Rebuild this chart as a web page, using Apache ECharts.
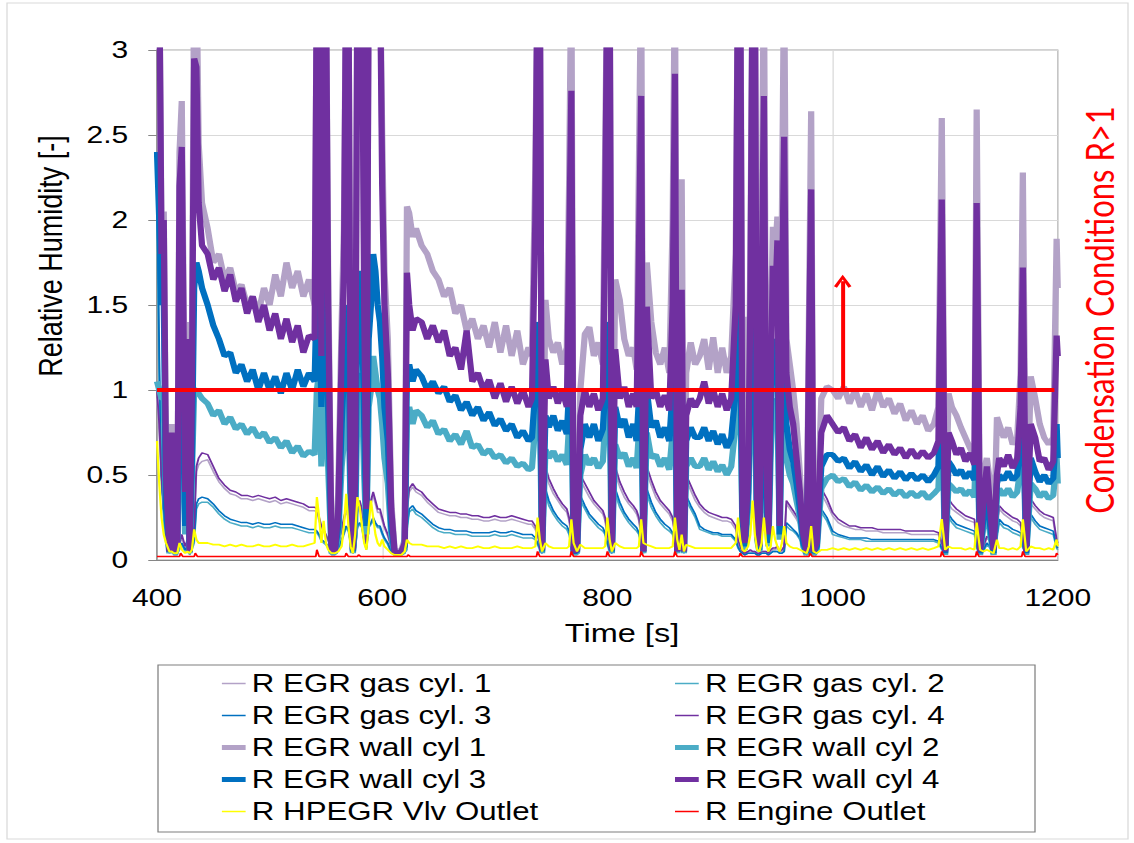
<!DOCTYPE html>
<html>
<head>
<meta charset="utf-8">
<script src="https://cdn.jsdelivr.net/npm/echarts@6/dist/echarts.min.js"></script>
<style>
  html, body { margin: 0; padding: 0; background: #fff; overflow: hidden; }
  /* the source picture is stretched sideways, so draw narrow and stretch */
  #chart { width: 907px; height: 843px; transform: scaleX(1.25); transform-origin: 0 0; }
</style>
</head>
<body>
<div id="chart"></div>
<script>
// time axis [s], shared by the series below
var time = [
  400, 402, 404, 406, 408, 411, 413, 415, 418, 420, 422, 425, 427, 429, 431, 433, 435, 437, 440,
  445, 450, 455, 460, 465, 470, 475, 480, 485, 490, 495, 500, 505, 510, 515, 520, 525, 530, 535,
  540, 542, 544, 546, 548, 550, 552, 555, 558, 561, 564, 566, 568, 570, 572, 574, 576, 578, 580, 582,
  584, 586, 588, 590, 592, 594, 596, 598, 600, 602, 605, 608, 611, 614, 617, 620, 622, 624, 627, 630,
  635, 640, 645, 650, 655, 660, 665, 670, 675, 680, 685, 690, 695, 700, 705, 710, 715, 720, 725, 730,
  733, 736, 738, 740, 742, 745, 748, 752, 756, 760, 764, 766, 768, 770, 773, 776, 780, 784, 788, 792,
  796, 798, 800, 802, 804, 807, 811, 815, 819, 823, 826, 828, 830, 832, 835, 839, 843, 847, 851, 855,
  858, 860, 862, 864, 866, 868, 870, 874, 878,
  882, 886, 890, 894, 898, 902, 906, 910, 914, 916, 918, 920, 922, 925, 927, 929, 931, 933, 935, 937,
  939, 941, 943, 945, 947, 949, 951, 953, 955, 957, 959, 962, 965, 968, 971, 974, 977, 979, 981, 983,
  986, 990, 995,
  1000, 1005, 1010, 1015, 1020, 1025, 1030, 1035, 1040, 1045, 1050, 1055, 1060, 1065, 1070, 1075, 1080, 1085, 1090,
  1094, 1097, 1100, 1103, 1106, 1110, 1114, 1118, 1122, 1126, 1128, 1131, 1134, 1137, 1140, 1143, 1146, 1148,
  1152, 1156, 1160, 1164, 1167, 1169, 1172, 1176, 1180, 1184, 1188, 1192, 1196, 1199, 1200
];

var gasCyl1 = [
  0.95, 0.75, 0.47, 0.28, 0.14, 0.05, 0.07, 0.04, 0.04, 0.09, 0.13, 0.07, 0.11, 0.04, 0.09, 0.18, 0.52, 0.56, 0.58,
  0.59, 0.52, 0.46, 0.42, 0.39, 0.38, 0.36, 0.36, 0.35, 0.36, 0.35, 0.34, 0.35, 0.33, 0.34, 0.33, 0.32, 0.31, 0.29,
  0.29, 0.28, 0.23, 0.19, 0.17, 0.14, 0.11, 0.07, 0.05, 0.09, 0.17, 0.23, 0.28, 0.26, 0.14, 0.05, 0.09, 0.28, 0.33, 0.28,
  0.19, 0.09, 0.28, 0.33, 0.38, 0.33, 0.28, 0.28, 0.23, 0.19, 0.14, 0.07, 0.04, 0.04, 0.04, 0.05, 0.28, 0.4, 0.43, 0.4,
  0.38, 0.34, 0.31, 0.28, 0.27, 0.26, 0.26, 0.25, 0.25, 0.24, 0.24, 0.23, 0.23, 0.24, 0.23, 0.23, 0.24, 0.23, 0.22, 0.21,
  0.21, 0.18, 0.14, 0.09, 0.05, 0.51, 0.45, 0.39, 0.35, 0.31, 0.28, 0.23, 0.14, 0.05, 0.05, 0.47, 0.42, 0.37, 0.33, 0.3,
  0.27, 0.23, 0.14, 0.09, 0.05, 0.51, 0.43, 0.37, 0.33, 0.3, 0.27, 0.23, 0.14, 0.05, 0.51, 0.44, 0.37, 0.33, 0.3, 0.27,
  0.23, 0.14, 0.05, 0.18, 0.37, 0.05, 0.47, 0.41, 0.35,
  0.31, 0.28, 0.26, 0.25, 0.24, 0.23, 0.23, 0.22, 0.18, 0.11, 0.07, 0.05, 0.04, 0.05, 0.05, 0.05, 0.05, 0.04, 0.04, 0.05,
  0.05, 0.05, 0.04, 0.05, 0.06, 0.06, 0.07, 0.05, 0.05, 0.07, 0.33, 0.3, 0.27, 0.24, 0.2, 0.11, 0.04, 0.05, 0.05, 0.04,
  0.09, 0.39, 0.33,
  0.26, 0.22, 0.2, 0.19, 0.18, 0.18, 0.17, 0.17, 0.17, 0.16, 0.16, 0.16, 0.16, 0.16, 0.15, 0.15, 0.15, 0.15, 0.15,
  0.15, 0.09, 0.05, 0.33, 0.3, 0.28, 0.26, 0.24, 0.23, 0.22, 0.11, 0.05, 0.07, 0.13, 0.11, 0.05, 0.18, 0.3,
  0.27, 0.25, 0.23, 0.22, 0.2, 0.11, 0.05, 0.33, 0.3, 0.27, 0.25, 0.24, 0.23, 0.11, 0.09
];

var gasCyl2 = [
  2.0, 1.0, 0.45, 0.27, 0.1, 0.04, 0.05, 0.03, 0.03, 0.07, 0.09, 0.05, 0.07, 0.03, 0.06, 0.1, 0.3, 0.33, 0.34,
  0.34, 0.31, 0.27, 0.24, 0.22, 0.21, 0.2, 0.2, 0.19, 0.2, 0.19, 0.19, 0.2, 0.19, 0.19, 0.19, 0.18, 0.17, 0.16,
  0.16, 0.16, 0.14, 0.11, 0.1, 0.09, 0.07, 0.04, 0.04, 0.06, 0.11, 0.15, 0.19, 0.17, 0.09, 0.04, 0.06, 0.19, 0.21, 0.19,
  0.11, 0.06, 0.19, 0.21, 0.23, 0.21, 0.19, 0.19, 0.15, 0.12, 0.09, 0.04, 0.03, 0.03, 0.03, 0.04, 0.18, 0.28, 0.3, 0.27,
  0.25, 0.22, 0.19, 0.17, 0.16, 0.16, 0.15, 0.15, 0.15, 0.14, 0.14, 0.14, 0.14, 0.15, 0.14, 0.14, 0.15, 0.14, 0.13, 0.13,
  0.13, 0.12, 0.09, 0.06, 0.04, 0.39, 0.32, 0.27, 0.23, 0.2, 0.18, 0.15, 0.09, 0.04, 0.04, 0.35, 0.3, 0.25, 0.22, 0.19,
  0.17, 0.15, 0.09, 0.05, 0.04, 0.39, 0.31, 0.26, 0.22, 0.19, 0.17, 0.15, 0.09, 0.04, 0.39, 0.31, 0.26, 0.22, 0.19, 0.17,
  0.15, 0.09, 0.04, 0.13, 0.28, 0.04, 0.35, 0.3, 0.25,
  0.18, 0.17, 0.16, 0.15, 0.15, 0.14, 0.14, 0.14, 0.11, 0.07, 0.05, 0.04, 0.03, 0.04, 0.04, 0.04, 0.04, 0.03, 0.03, 0.04,
  0.04, 0.04, 0.03, 0.04, 0.05, 0.05, 0.05, 0.04, 0.04, 0.05, 0.2, 0.18, 0.17, 0.15, 0.12, 0.07, 0.03, 0.04, 0.04, 0.03,
  0.06, 0.28, 0.23,
  0.15, 0.14, 0.13, 0.12, 0.12, 0.12, 0.11, 0.11, 0.11, 0.11, 0.11, 0.11, 0.11, 0.11, 0.11, 0.11, 0.11, 0.11, 0.11,
  0.1, 0.06, 0.04, 0.25, 0.22, 0.19, 0.18, 0.17, 0.16, 0.15, 0.07, 0.04, 0.05, 0.09, 0.07, 0.04, 0.13, 0.22,
  0.19, 0.18, 0.16, 0.15, 0.14, 0.07, 0.04, 0.25, 0.21, 0.18, 0.17, 0.16, 0.15, 0.07, 0.06
];

var gasCyl3 = [
  2.35, 1.2, 0.5, 0.3, 0.12, 0.05, 0.06, 0.04, 0.04, 0.08, 0.1, 0.06, 0.08, 0.04, 0.07, 0.12, 0.33, 0.36, 0.37,
  0.36, 0.33, 0.29, 0.26, 0.24, 0.23, 0.22, 0.22, 0.21, 0.22, 0.21, 0.21, 0.22, 0.21, 0.21, 0.21, 0.2, 0.19, 0.18,
  0.18, 0.17, 0.15, 0.12, 0.11, 0.1, 0.08, 0.05, 0.04, 0.07, 0.12, 0.16, 0.2, 0.18, 0.1, 0.04, 0.07, 0.2, 0.22, 0.2,
  0.12, 0.07, 0.2, 0.22, 0.25, 0.22, 0.2, 0.2, 0.16, 0.13, 0.1, 0.05, 0.03, 0.03, 0.03, 0.04, 0.2, 0.3, 0.32, 0.29,
  0.27, 0.24, 0.21, 0.19, 0.18, 0.18, 0.17, 0.17, 0.17, 0.16, 0.16, 0.16, 0.16, 0.17, 0.16, 0.16, 0.17, 0.16, 0.15, 0.15,
  0.15, 0.13, 0.1, 0.07, 0.04, 0.42, 0.35, 0.29, 0.25, 0.22, 0.2, 0.17, 0.1, 0.04, 0.04, 0.38, 0.32, 0.27, 0.24, 0.21,
  0.19, 0.16, 0.1, 0.06, 0.04, 0.42, 0.34, 0.28, 0.24, 0.21, 0.19, 0.16, 0.1, 0.04, 0.42, 0.34, 0.28, 0.24, 0.21, 0.19,
  0.16, 0.1, 0.04, 0.15, 0.3, 0.04, 0.38, 0.32, 0.27,
  0.2, 0.18, 0.17, 0.16, 0.16, 0.15, 0.15, 0.15, 0.12, 0.08, 0.05, 0.04, 0.03, 0.04, 0.04, 0.04, 0.04, 0.03, 0.03, 0.04,
  0.04, 0.04, 0.03, 0.04, 0.05, 0.05, 0.05, 0.04, 0.04, 0.05, 0.22, 0.2, 0.18, 0.16, 0.13, 0.08, 0.03, 0.04, 0.04, 0.03,
  0.07, 0.3, 0.25,
  0.17, 0.15, 0.14, 0.13, 0.13, 0.13, 0.13, 0.12, 0.12, 0.12, 0.12, 0.12, 0.12, 0.12, 0.12, 0.12, 0.12, 0.12, 0.12,
  0.11, 0.07, 0.04, 0.27, 0.24, 0.21, 0.2, 0.19, 0.18, 0.17, 0.08, 0.04, 0.06, 0.1, 0.08, 0.04, 0.15, 0.24,
  0.21, 0.2, 0.18, 0.17, 0.16, 0.08, 0.04, 0.27, 0.23, 0.2, 0.19, 0.18, 0.17, 0.08, 0.07
];

var gasCyl4 = [
  1.0, 0.8, 0.5, 0.3, 0.15, 0.06, 0.08, 0.05, 0.05, 0.1, 0.15, 0.08, 0.12, 0.05, 0.1, 0.2, 0.55, 0.6, 0.63,
  0.62, 0.55, 0.48, 0.44, 0.41, 0.4, 0.38, 0.38, 0.37, 0.38, 0.37, 0.36, 0.37, 0.35, 0.36, 0.35, 0.34, 0.33, 0.31,
  0.31, 0.3, 0.25, 0.2, 0.18, 0.15, 0.12, 0.08, 0.06, 0.1, 0.18, 0.25, 0.3, 0.28, 0.15, 0.06, 0.1, 0.3, 0.35, 0.3,
  0.2, 0.1, 0.3, 0.35, 0.4, 0.35, 0.3, 0.3, 0.25, 0.2, 0.15, 0.08, 0.04, 0.04, 0.04, 0.06, 0.3, 0.42, 0.45, 0.42,
  0.4, 0.36, 0.33, 0.3, 0.29, 0.28, 0.28, 0.27, 0.27, 0.26, 0.26, 0.25, 0.25, 0.26, 0.25, 0.25, 0.26, 0.25, 0.24, 0.23,
  0.23, 0.2, 0.15, 0.1, 0.05, 0.55, 0.48, 0.42, 0.37, 0.33, 0.3, 0.25, 0.15, 0.05, 0.05, 0.5, 0.45, 0.4, 0.35, 0.32,
  0.29, 0.25, 0.15, 0.1, 0.05, 0.55, 0.46, 0.4, 0.35, 0.32, 0.29, 0.25, 0.15, 0.05, 0.55, 0.47, 0.4, 0.35, 0.32, 0.29,
  0.25, 0.15, 0.05, 0.2, 0.4, 0.05, 0.5, 0.44, 0.38,
  0.33, 0.3, 0.28, 0.27, 0.26, 0.25, 0.25, 0.24, 0.2, 0.12, 0.08, 0.05, 0.04, 0.05, 0.06, 0.05, 0.05, 0.04, 0.04, 0.05,
  0.05, 0.05, 0.04, 0.06, 0.07, 0.07, 0.08, 0.05, 0.06, 0.08, 0.35, 0.32, 0.29, 0.26, 0.22, 0.12, 0.04, 0.05, 0.05, 0.04,
  0.1, 0.42, 0.36,
  0.28, 0.24, 0.22, 0.2, 0.2, 0.19, 0.19, 0.19, 0.18, 0.18, 0.18, 0.18, 0.18, 0.17, 0.17, 0.17, 0.17, 0.17, 0.17,
  0.16, 0.1, 0.05, 0.36, 0.33, 0.3, 0.28, 0.26, 0.25, 0.24, 0.12, 0.05, 0.08, 0.14, 0.12, 0.05, 0.2, 0.32,
  0.29, 0.27, 0.25, 0.24, 0.22, 0.12, 0.05, 0.36, 0.32, 0.29, 0.27, 0.26, 0.25, 0.12, 0.1
];

var wallCyl1 = [
  3.5, 3.5, 1.9, 2.05, 0.6, 0.06, 0.8, 0.06, 0.12, 2.4, 2.7, 0.5, 1.4, 0.06, 1.2, 3.5, 3.5, 2.45, 2.1,
  1.95, 1.75, 1.8, 1.65, 1.72, 1.58, 1.62, 1.5, 1.55, 1.45, 1.6, 1.5, 1.68, 1.55, 1.75, 1.6, 1.7, 1.55, 1.65,
  1.5, 3.5, 3.5, 1.4, 3.5, 3.5, 1.7, 0.08, 0.06, 0.4, 1.4, 1.94, 3.5, 3.5, 0.8, 0.08, 0.6, 3.5, 3.5, 3.5,
  1.8, 0.4, 3.5, 3.5, 3.5, 3.5, 3.5, 3.5, 2.5, 1.7, 1.3, 0.35, 0.06, 0.05, 0.06, 0.12, 2.08, 2.04, 1.9, 1.95,
  1.85, 1.8, 1.7, 1.65, 1.55, 1.6, 1.45, 1.5, 1.35, 1.42, 1.3, 1.38, 1.25, 1.4, 1.22, 1.38, 1.2, 1.35, 1.15, 1.25,
  1.2, 2.3, 3.5, 3.5, 0.08, 1.53, 1.3, 1.22, 1.28, 1.15, 1.25, 2.2, 3.5, 0.08, 0.06, 1.0, 1.33, 1.37, 1.2, 1.28,
  1.15, 2.4, 3.5, 3.5, 0.08, 1.65, 1.53, 1.3, 1.2, 1.25, 1.12, 2.3, 3.5, 0.07, 1.75, 1.4, 1.22, 1.15, 1.25, 1.1,
  2.0, 3.5, 0.06, 1.0, 2.24, 0.06, 1.1, 1.28, 1.15,
  1.2, 1.3, 1.12, 1.31, 1.1, 1.25, 1.1, 1.2, 1.8, 3.5, 3.5, 1.0, 1.43, 0.6, 1.8, 3.5, 3.5, 0.3, 0.1, 1.9,
  3.5, 0.8, 0.2, 1.3, 1.96, 1.8, 2.02, 0.3, 2.0, 3.5, 1.3, 1.15, 1.0, 0.8, 0.5, 0.2, 0.06, 1.4, 2.64, 0.06,
  0.15, 0.95, 1.02,
  1.0, 0.95, 1.02, 0.92, 1.0, 0.9, 0.98, 0.88, 1.0, 0.9, 0.95, 0.86, 0.92, 0.82, 0.88, 0.8, 0.85, 0.76, 0.8,
  0.9, 2.6, 0.07, 0.98, 0.9, 0.85, 0.78, 0.72, 0.66, 0.6, 2.65, 0.07, 0.5, 0.6, 0.45, 0.07, 0.84, 0.8,
  0.72, 0.78, 0.68, 0.72, 1.1, 2.28, 0.06, 1.08, 0.95, 0.8, 0.72, 0.68, 0.72, 1.89, 1.6
];

var wallCyl2 = [
  1.05, 1.0, 0.95, 0.95, 0.2, 0.04, 0.3, 0.04, 0.06, 0.8, 1.0, 0.15, 0.7, 0.04, 0.5, 1.0, 1.0, 0.98, 0.95,
  0.92, 0.85, 0.88, 0.8, 0.84, 0.77, 0.8, 0.74, 0.78, 0.72, 0.75, 0.69, 0.72, 0.66, 0.7, 0.63, 0.67, 0.61, 0.64,
  0.62, 1.0, 1.1, 0.55, 0.9, 1.0, 0.55, 0.04, 0.04, 0.15, 0.55, 0.7, 1.0, 0.9, 0.3, 0.04, 0.2, 0.9, 1.1, 1.0,
  0.5, 0.15, 0.9, 1.0, 1.2, 1.1, 1.0, 0.95, 0.8, 0.6, 0.45, 0.15, 0.04, 0.03, 0.04, 0.06, 0.85, 0.9, 0.8, 0.88,
  0.85, 0.78, 0.82, 0.74, 0.77, 0.7, 0.74, 0.68, 0.76, 0.66, 0.68, 0.62, 0.65, 0.6, 0.62, 0.57, 0.6, 0.55, 0.57, 0.53,
  0.54, 0.8, 1.0, 0.9, 0.04, 0.65, 0.6, 0.64, 0.58, 0.62, 0.56, 0.8, 1.0, 0.04, 0.04, 0.5, 0.62, 0.56, 0.6, 0.54,
  0.58, 0.8, 1.0, 0.9, 0.04, 0.68, 0.6, 0.63, 0.55, 0.6, 0.54, 0.75, 1.0, 0.04, 0.75, 0.6, 0.62, 0.55, 0.6, 0.53,
  0.75, 1.0, 0.04, 0.3, 0.8, 0.04, 0.55, 0.6, 0.55,
  0.55, 0.6, 0.53, 0.58, 0.52, 0.56, 0.5, 0.55, 0.8, 1.1, 1.0, 0.15, 0.06, 0.3, 0.8, 1.1, 1.0, 0.12, 0.05, 0.8,
  1.1, 0.3, 0.08, 0.6, 0.95, 0.85, 0.95, 0.12, 0.85, 1.2, 0.6, 0.5, 0.45, 0.35, 0.25, 0.08, 0.03, 0.6, 0.9, 0.03,
  0.06, 0.42, 0.48,
  0.5, 0.46, 0.48, 0.43, 0.46, 0.41, 0.44, 0.4, 0.43, 0.39, 0.42, 0.38, 0.41, 0.37, 0.4, 0.37, 0.4, 0.36, 0.39,
  0.42, 0.9, 0.03, 0.45, 0.43, 0.4, 0.42, 0.38, 0.41, 0.37, 0.85, 0.03, 0.2, 0.32, 0.15, 0.03, 0.37, 0.42,
  0.38, 0.42, 0.37, 0.4, 0.55, 0.8, 0.03, 0.45, 0.42, 0.37, 0.4, 0.36, 0.38, 0.6, 0.45
];

var wallCyl3 = [
  2.4, 2.0, 1.5, 1.55, 0.3, 0.05, 0.4, 0.05, 0.08, 1.2, 1.6, 0.2, 0.9, 0.05, 0.6, 1.6, 1.75, 1.7, 1.6,
  1.5, 1.38, 1.3, 1.2, 1.22, 1.1, 1.15, 1.05, 1.12, 1.0, 1.1, 1.0, 1.08, 0.98, 1.1, 1.0, 1.12, 1.02, 1.1,
  1.05, 1.6, 1.7, 0.9, 1.5, 1.6, 0.9, 0.05, 0.05, 0.2, 0.8, 1.1, 1.5, 1.4, 0.4, 0.05, 0.3, 1.5, 1.7, 1.5,
  0.8, 0.2, 1.3, 1.5, 1.8, 1.7, 1.5, 1.4, 1.2, 0.9, 0.7, 0.2, 0.04, 0.04, 0.05, 0.08, 1.1, 1.15, 1.05, 1.12,
  1.08, 1.0, 1.05, 0.98, 1.02, 0.93, 0.97, 0.88, 0.93, 0.85, 0.9, 0.82, 0.87, 0.79, 0.83, 0.76, 0.8, 0.72, 0.76, 0.7,
  0.72, 1.0, 1.4, 1.2, 0.05, 0.85, 0.78, 0.85, 0.76, 0.82, 0.74, 1.0, 1.3, 0.05, 0.05, 0.65, 0.8, 0.72, 0.8, 0.7,
  0.77, 1.0, 1.4, 1.3, 0.05, 0.9, 0.78, 0.83, 0.72, 0.8, 0.7, 0.95, 1.3, 0.05, 1.0, 0.78, 0.82, 0.72, 0.78, 0.7,
  1.0, 1.3, 0.05, 0.4, 1.1, 0.05, 0.7, 0.78, 0.72,
  0.72, 0.78, 0.7, 0.76, 0.68, 0.74, 0.66, 0.72, 1.0, 1.5, 1.3, 0.2, 0.08, 0.4, 1.0, 1.5, 1.3, 0.15, 0.06, 1.0,
  1.5, 0.4, 0.1, 0.8, 1.3, 1.1, 1.3, 0.15, 1.1, 1.6, 0.8, 0.65, 0.58, 0.45, 0.3, 0.1, 0.04, 0.8, 1.2, 0.04,
  0.08, 0.55, 0.62,
  0.62, 0.58, 0.6, 0.54, 0.58, 0.52, 0.56, 0.5, 0.55, 0.49, 0.53, 0.48, 0.52, 0.47, 0.51, 0.47, 0.5, 0.46, 0.5,
  0.55, 1.2, 0.04, 0.58, 0.55, 0.5, 0.53, 0.48, 0.52, 0.47, 1.1, 0.04, 0.25, 0.4, 0.2, 0.04, 0.45, 0.5,
  0.47, 0.52, 0.47, 0.5, 0.7, 1.0, 0.04, 0.6, 0.52, 0.46, 0.5, 0.45, 0.48, 0.8, 0.6
];

var wallCyl4 = [
  3.5, 3.5, 1.8, 2.0, 0.5, 0.05, 0.75, 0.05, 0.1, 2.2, 2.43, 0.4, 1.3, 0.05, 1.0, 2.95, 2.9, 2.1, 1.85,
  1.8, 1.65, 1.72, 1.58, 1.68, 1.52, 1.6, 1.45, 1.55, 1.4, 1.5, 1.35, 1.45, 1.3, 1.42, 1.28, 1.38, 1.22, 1.32,
  1.3, 3.5, 3.5, 1.2, 3.5, 3.5, 1.5, 0.06, 0.05, 0.3, 1.2, 1.7, 3.5, 3.5, 0.6, 0.06, 0.5, 3.5, 3.5, 3.5,
  1.5, 0.3, 3.5, 3.5, 3.5, 3.5, 3.5, 3.5, 2.2, 1.5, 1.1, 0.3, 0.05, 0.04, 0.05, 0.1, 1.69, 1.5, 1.35, 1.42,
  1.4, 1.3, 1.38, 1.28, 1.35, 1.2, 1.25, 1.12, 1.35, 1.05, 1.1, 1.0, 1.06, 0.95, 1.04, 0.93, 1.02, 0.92, 1.0, 0.9,
  0.95, 2.0, 3.5, 3.5, 0.06, 1.18, 0.95, 1.02, 0.92, 1.0, 0.9, 1.8, 2.76, 0.06, 0.05, 0.85, 1.0, 0.9, 0.98, 0.88,
  0.95, 2.0, 3.5, 3.5, 0.06, 1.24, 0.95, 1.02, 0.9, 0.98, 0.9, 1.8, 2.73, 0.05, 1.49, 0.95, 1.0, 0.9, 0.97, 0.88,
  1.5, 2.86, 0.05, 0.5, 1.59, 0.05, 0.85, 0.95, 0.9,
  0.95, 1.05, 0.92, 1.0, 0.9, 0.98, 0.88, 0.95, 1.5, 3.5, 3.5, 0.3, 0.1, 0.5, 1.5, 3.5, 3.5, 0.2, 0.08, 1.5,
  2.73, 0.6, 0.15, 1.0, 1.73, 1.5, 1.88, 0.2, 1.5, 2.49, 1.1, 0.9, 0.8, 0.6, 0.4, 0.15, 0.05, 1.2, 2.18, 0.05,
  0.1, 0.75, 0.85,
  0.8, 0.75, 0.78, 0.7, 0.74, 0.66, 0.72, 0.65, 0.7, 0.63, 0.68, 0.62, 0.66, 0.6, 0.65, 0.6, 0.64, 0.6, 0.63,
  0.7, 2.12, 0.05, 0.75, 0.7, 0.62, 0.66, 0.58, 0.63, 0.56, 2.1, 0.05, 0.35, 0.55, 0.3, 0.06, 0.5, 0.6,
  0.55, 0.62, 0.54, 0.6, 0.9, 1.72, 0.05, 0.8, 0.72, 0.58, 0.6, 0.53, 0.58, 1.32, 1.2
];

var hpegrOutlet = [
  0.7, 0.45, 0.25, 0.15, 0.1, 0.05, 0.05, 0.04, 0.04, 0.1, 0.06, 0.04, 0.05, 0.04, 0.06, 0.18, 0.12, 0.1, 0.1,
  0.1, 0.09, 0.09, 0.08, 0.09, 0.08, 0.09, 0.08, 0.08, 0.09, 0.08, 0.08, 0.09, 0.08, 0.08, 0.09, 0.08, 0.08, 0.09,
  0.1, 0.37, 0.25, 0.1, 0.23, 0.1, 0.06, 0.04, 0.04, 0.05, 0.08, 0.2, 0.39, 0.2, 0.08, 0.04, 0.15, 0.37, 0.31, 0.2,
  0.1, 0.06, 0.2, 0.35, 0.25, 0.15, 0.1, 0.08, 0.12, 0.08, 0.06, 0.04, 0.03, 0.03, 0.03, 0.05, 0.12, 0.1, 0.09, 0.09,
  0.09, 0.08, 0.08, 0.08, 0.07, 0.08, 0.07, 0.08, 0.07, 0.07, 0.08, 0.07, 0.07, 0.08, 0.07, 0.07, 0.07, 0.08, 0.07, 0.07,
  0.07, 0.08, 0.25, 0.12, 0.05, 0.1, 0.08, 0.07, 0.07, 0.07, 0.07, 0.08, 0.24, 0.1, 0.05, 0.09, 0.07, 0.07, 0.07, 0.07,
  0.07, 0.08, 0.25, 0.12, 0.05, 0.1, 0.08, 0.07, 0.07, 0.07, 0.07, 0.08, 0.24, 0.1, 0.09, 0.08, 0.07, 0.07, 0.07, 0.07,
  0.08, 0.25, 0.12, 0.06, 0.15, 0.05, 0.09, 0.08, 0.07,
  0.07, 0.07, 0.07, 0.07, 0.07, 0.07, 0.07, 0.07, 0.1, 0.25, 0.12, 0.06, 0.05, 0.08, 0.15, 0.35, 0.15, 0.06, 0.05, 0.1,
  0.25, 0.1, 0.05, 0.08, 0.2, 0.12, 0.08, 0.05, 0.1, 0.2, 0.1, 0.08, 0.07, 0.07, 0.06, 0.05, 0.04, 0.08, 0.2, 0.05,
  0.04, 0.06, 0.06,
  0.07, 0.06, 0.07, 0.06, 0.07, 0.06, 0.07, 0.06, 0.07, 0.06, 0.07, 0.06, 0.07, 0.06, 0.07, 0.06, 0.07, 0.06, 0.07,
  0.08, 0.24, 0.06, 0.08, 0.07, 0.07, 0.07, 0.06, 0.07, 0.06, 0.22, 0.06, 0.05, 0.06, 0.05, 0.04, 0.12, 0.07,
  0.07, 0.06, 0.07, 0.06, 0.08, 0.24, 0.05, 0.08, 0.07, 0.07, 0.06, 0.07, 0.06, 0.12, 0.08
];

// engine outlet sits near zero, only small bumps at the events
var engineTime = [400, 420, 421, 423, 433, 434, 436, 541, 542, 544, 567, 568, 570, 578, 579, 581, 622, 623, 625,
  737, 738, 740, 767, 768, 770, 799, 800, 802, 829, 830, 832, 859, 860, 862, 917, 918, 920, 979, 980, 982,
  1096, 1097, 1099, 1127, 1128, 1130, 1168, 1169, 1171, 1198, 1199, 1200];
var engineOutlet = [0.02, 0.02, 0.04, 0.02, 0.02, 0.04, 0.02, 0.02, 0.06, 0.02, 0.02, 0.04, 0.02, 0.02, 0.03, 0.02, 0.02, 0.03, 0.02,
  0.02, 0.05, 0.02, 0.02, 0.05, 0.02, 0.02, 0.05, 0.02, 0.02, 0.05, 0.02, 0.02, 0.05, 0.02, 0.02, 0.04, 0.02, 0.02, 0.04, 0.02,
  0.02, 0.05, 0.02, 0.02, 0.05, 0.02, 0.02, 0.05, 0.02, 0.02, 0.04, 0.03];

// condensation threshold R = 1 and the arrow above it
var thresholdTime = [400, 1197];
var thresholdValue = [1, 1];
var arrowX = 1009;
var arrowTop = 1.64;

var xTicks = { min: 400, max: 1200, step: 200 };
var yTicks = { min: 0, max: 3, step: 0.5 };

var FONT = 'Liberation Sans, Arial, sans-serif';
var THIN = 1.5, THICK = 5;
var chart = echarts.init(document.getElementById('chart'), null, { renderer: 'svg' });

function pairs(xs, ys) {
  return xs.map(function (t, i) { return [t, ys[i]]; });
}
function lineSeries(name, values, color, width) {
  return {
    name: name,
    type: 'line',
    data: pairs(time, values),
    symbol: 'none',
    showSymbol: false,
    lineStyle: { color: color, width: width },
    itemStyle: { color: color },
    clip: true
  };
}
// legend entry with the same line weight as its series
function legendItem(name, width) {
  return { name: name, lineStyle: { width: width } };
}

var series = [
  lineSeries('R EGR gas cyl. 1', gasCyl1, '#B3A2C7', THIN),
  lineSeries('R EGR gas cyl. 2', gasCyl2, '#4BACC6', THIN),
  lineSeries('R EGR gas cyl. 3', gasCyl3, '#0070C0', THIN),
  lineSeries('R EGR gas cyl. 4', gasCyl4, '#7030A0', THIN),
  lineSeries('R EGR wall cyl 1', wallCyl1, '#B3A2C7', THICK),
  lineSeries('R EGR wall cyl 2', wallCyl2, '#4BACC6', THICK),
  lineSeries('R EGR wall cyl 3', wallCyl3, '#0070C0', THICK),
  lineSeries('R EGR wall cyl 4', wallCyl4, '#7030A0', THICK),
  lineSeries('R HPEGR Vlv Outlet', hpegrOutlet, '#FFFF00', 1.8),
  {
    name: 'R Engine Outlet',
    type: 'line',
    data: pairs(engineTime, engineOutlet),
    symbol: 'none',
    lineStyle: { color: '#FF0000', width: THIN },
    itemStyle: { color: '#FF0000' }
  },
  {
    name: 'threshold',
    type: 'line',
    data: pairs(thresholdTime, thresholdValue),
    symbol: 'none',
    silent: true,
    z: 5,
    lineStyle: { color: '#FF0000', width: 4 },
    markLine: {
      silent: true,
      symbol: ['none', 'path://M0,12 L7,0 L14,12 L11.6,13.4 L7,5 L2.4,13.4 Z'],
      symbolSize: [14, 13],
      label: { show: false },
      lineStyle: { color: '#FF0000', width: 3.2, type: 'solid' },
      data: [[{ coord: [arrowX, 1] }, { coord: [arrowX, arrowTop] }]]
    }
  }
];

var legendCommon = {
  orient: 'vertical',
  top: 671,
  padding: 0,
  itemWidth: 19,
  itemHeight: 14,
  itemGap: 7,
  itemStyle: { opacity: 0 },   // line only, no marker dot
  textStyle: { fontSize: 25, lineHeight: 25, color: '#000', fontFamily: FONT }
};

var option = {
  animation: false,
  backgroundColor: '#fff',
  grid: { left: 125.6, right: 60.8, top: 50, bottom: 283, show: true, borderColor: '#A6A6A6', borderWidth: 1 },
  xAxis: {
    type: 'value',
    min: xTicks.min, max: xTicks.max, interval: xTicks.step,
    axisLine: { lineStyle: { color: '#868686' } },
    axisTick: { show: false },
    axisLabel: { fontSize: 24, color: '#000', fontFamily: FONT, margin: 26, formatter: function (v) { return String(v); } },
    splitLine: { lineStyle: { color: '#D9D9D9' } }
  },
  yAxis: {
    type: 'value',
    min: yTicks.min, max: yTicks.max, interval: yTicks.step,
    axisLine: { show: true, lineStyle: { color: '#868686' } },
    axisTick: { show: true, length: 7, lineStyle: { color: '#868686' } },
    axisLabel: { fontSize: 24, color: '#000', fontFamily: FONT, margin: 23, formatter: function (v) { return String(v); } },
    splitLine: { lineStyle: { color: '#D9D9D9' } }
  },
  legend: [
    Object.assign({ left: 175, data: [
      legendItem('R EGR gas cyl. 1', THIN), legendItem('R EGR gas cyl. 3', THIN),
      legendItem('R EGR wall cyl 1', THICK), legendItem('R EGR wall cyl 3', THICK),
      legendItem('R HPEGR Vlv Outlet', THIN)] }, legendCommon),
    Object.assign({ left: 537.5, data: [
      legendItem('R EGR gas cyl. 2', THIN), legendItem('R EGR gas cyl. 4', THIN),
      legendItem('R EGR wall cyl 2', THICK), legendItem('R EGR wall cyl 4', THICK),
      legendItem('R Engine Outlet', THIN)] }, legendCommon)
  ],
  graphic: [
    { type: 'rect', silent: true, z: -1, shape: { x: 5.6, y: 3, width: 896.8, height: 836 },
      style: { fill: 'none', stroke: '#D9D9D9', lineWidth: 1 } },
    { type: 'rect', silent: true, shape: { x: 126.4, y: 665, width: 701.6, height: 167 },
      style: { fill: 'none', stroke: '#7F7F7F', lineWidth: 1 } },
    { type: 'text', x: 39.6, y: 256, rotation: Math.PI / 2,
      style: { text: 'Relative Humidity [-]', fontSize: 27, fontFamily: FONT, fill: '#000', align: 'center', verticalAlign: 'middle' } },
    { type: 'text', x: 497.6, y: 633,
      style: { text: 'Time [s]', fontSize: 26, fontFamily: FONT, fill: '#000', align: 'center', verticalAlign: 'middle' } },
    { type: 'text', x: 879, y: 310, rotation: Math.PI / 2,
      style: { text: 'Condensation Conditions R>1', fontSize: 31, fontFamily: 'Lato, Open Sans, sans-serif', fill: '#FF0000', align: 'center', verticalAlign: 'middle' } }
  ],
  series: series
};

chart.setOption(option);
</script>
</body>
</html>
